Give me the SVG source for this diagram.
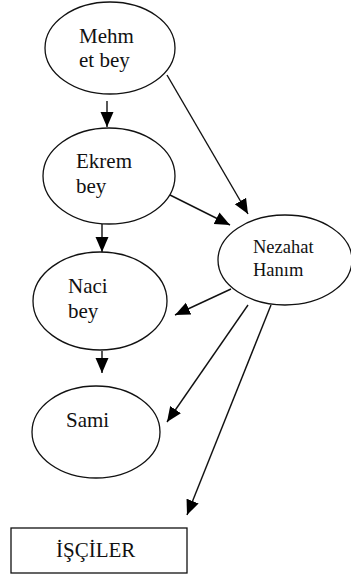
<svg xmlns="http://www.w3.org/2000/svg" width="351" height="578" viewBox="0 0 351 578">
  <style>
    .node { fill: #fff; stroke: #111; stroke-width: 1.3; }
    .label { font-size: 21px; fill: #111; }
    .small { font-size: 18.5px; }
    .edge { stroke: #111; stroke-width: 1.4; fill: none; marker-end: url(#head); }
  </style>
  <defs>
    <marker id="head" markerUnits="userSpaceOnUse" markerWidth="15" markerHeight="14" viewBox="0 0 15 13" refX="15" refY="6.5" orient="auto">
      <path d="M0,0 L15,6.5 L0,13 Z" fill="#000"/>
    </marker>
  </defs>

  <rect width="351" height="578" fill="#fff"/>

  <!-- connectors -->
  <g id="edges">
    <line class="edge" x1="107" y1="101" x2="107" y2="127"/>
    <line class="edge" x1="102" y1="224" x2="102" y2="252"/>
    <line class="edge" x1="102" y1="351" x2="102" y2="373"/>
    <line class="edge" x1="167" y1="75" x2="248" y2="214"/>
    <line class="edge" x1="170" y1="195" x2="230" y2="225"/>
    <line class="edge" x1="231" y1="289" x2="175" y2="315"/>
    <line class="edge" x1="248" y1="305" x2="167" y2="422"/>
    <line class="edge" x1="271" y1="305" x2="187" y2="515"/>
  </g>

  <!-- nodes -->
  <g font-family="Liberation Serif, DejaVu Serif, serif">
    <g id="mehmet">
      <ellipse class="node" cx="110" cy="48" rx="65" ry="46"/>
      <text class="label" x="79" y="43">Mehm</text>
      <text class="label" x="79" y="67">et bey</text>
    </g>
    <g id="ekrem">
      <ellipse class="node" cx="109" cy="176" rx="66" ry="48"/>
      <text class="label" x="76" y="168">Ekrem</text>
      <text class="label" x="76" y="193">bey</text>
    </g>
    <g id="naci">
      <ellipse class="node" cx="100" cy="301" rx="67" ry="49"/>
      <text class="label" x="68" y="293">Naci</text>
      <text class="label" x="68" y="318">bey</text>
    </g>
    <g id="sami">
      <ellipse class="node" cx="96" cy="432" rx="64" ry="46"/>
      <text class="label" x="66" y="427">Sami</text>
    </g>
    <g id="nezahat">
      <ellipse class="node" cx="285" cy="260" rx="67" ry="45"/>
      <text class="label small" x="253" y="253">Nezahat</text>
      <text class="label small" x="253" y="276">Hanım</text>
    </g>
    <g id="isciler">
      <rect class="node" x="11" y="528" width="176" height="45"/>
      <text class="label" x="56" y="557">İŞÇİLER</text>
    </g>
  </g>
</svg>
